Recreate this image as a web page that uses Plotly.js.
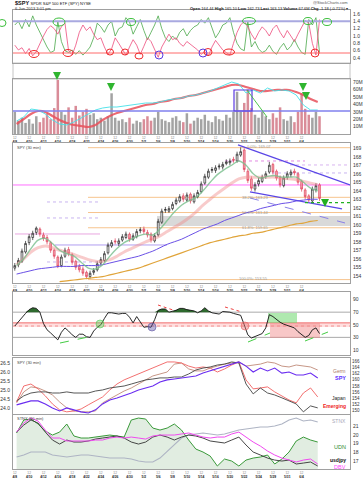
<!DOCTYPE html>
<html><head><meta charset="utf-8">
<script src="https://cdn.plot.ly/plotly-3.0.1.min.js"></script>
<style>html,body{margin:0;padding:0;background:#fff}#chart{width:364px;height:480px}</style>
</head><body><div id="chart"></div>
<script>
// ---------- DATA ----------
const days = ['4/8','4/9','4/10','4/11','4/12','4/15','4/16','4/17','4/18','4/19','4/22','4/23','4/24','4/25','4/26','4/29','4/30','5/1','5/2','5/3','5/6','5/7','5/8','5/9','5/10','5/13','5/14','5/15','5/16','5/17','5/20','5/21','5/22','5/23','5/24','5/28','5/29','5/30','5/31','6/3','6/4','6/5','6/6'];
const labelDays = [0,2,4,6,8,10,12,14,16,18,20,22,24,26,28,30,32,34,36,38,40];

// half-day SPY bars
const spyOpen = [154.9,155.3,155.7,156.8,157.9,158.5,159.1,159.5,158.8,158.5,157.9,157.0,156.2,155.2,156.3,157.1,156.5,155.7,155.1,154.8,154.4,153.9,154.4,154.7,155.5,155.8,156.7,157.5,158.1,157.8,158.2,158.5,158.9,158.3,158.6,159.3,159.5,159.1,158.9,158.1,158.8,160.3,161.7,161.6,161.9,162.5,162.8,163.4,162.9,163.6,162.7,163.3,163.9,164.9,165.6,166.4,166.4,166.8,166.8,167.2,167.3,167.7,167.5,168.2,168.8,166.3,165.4,164.2,164.8,165.1,165.7,166.2,167.1,166.3,165.6,164.6,165.6,165.9,166.3,166.0,165.1,164.1,163.4,162.8,164.1,164.7];
const spyHigh = [155.5,156.1,157.2,158.1,158.9,159.3,159.8,159.7,159.1,158.8,158.1,157.2,156.4,156.5,157.3,157.4,156.7,155.9,155.4,155.1,154.6,154.6,154.9,155.7,156.2,156.9,157.9,158.2,158.4,158.4,158.9,159.2,159.1,159.0,159.5,159.7,159.8,159.4,159.1,159.0,160.7,161.9,162.1,162.2,162.7,163.2,163.6,163.7,163.8,163.8,163.7,164.1,165.1,166.0,166.6,166.8,167.0,167.2,167.4,167.7,167.8,168.0,168.6,169.1,169.0,166.6,165.7,165.0,165.5,165.9,166.3,167.4,167.3,166.5,165.8,165.8,166.3,166.5,166.6,166.2,165.3,164.3,163.6,164.5,164.9,164.9];
const spyLow = [154.6,155.0,155.5,156.6,157.6,158.2,158.8,158.6,158.1,157.7,156.7,156.0,154.9,155.0,156.1,156.3,155.3,154.7,154.4,154.0,153.6,153.7,154.1,154.5,155.2,155.6,156.5,157.3,157.7,157.5,158.0,158.3,158.0,158.1,158.4,159.0,158.9,158.5,157.9,157.9,158.6,160.1,161.4,161.4,161.7,162.3,162.6,162.7,162.7,162.5,162.5,163.1,163.7,164.7,165.4,166.1,166.1,166.5,166.5,167.0,167.0,167.3,167.3,168.0,166.2,164.9,164.0,163.9,164.5,164.9,165.4,166.0,165.9,165.2,164.4,164.4,165.3,165.6,165.8,164.7,163.9,163.0,162.6,162.6,163.8,162.8];
const spyClose = [155.2,155.8,156.9,157.8,158.6,159.0,159.6,158.9,158.4,158.0,157.0,156.3,155.1,156.2,157.0,156.6,155.6,155.0,154.7,154.3,153.9,154.3,154.6,155.4,155.9,156.6,157.6,157.9,158.0,158.1,158.6,158.9,158.3,158.7,159.2,159.4,159.2,158.8,158.2,158.7,160.4,161.6,161.8,161.9,162.4,162.9,163.3,163.0,163.5,162.8,163.4,163.8,164.8,165.7,166.3,166.5,166.7,166.9,167.1,167.4,167.5,167.6,168.3,168.6,166.5,165.2,164.3,164.7,165.2,165.6,166.0,167.0,166.2,165.5,164.7,165.5,166.0,166.2,166.1,165.0,164.2,163.3,162.9,164.2,164.6,163.1];
const volumeM = [30,18,22,15,20,14,24,16,22,28,20,35,73,30,26,36,22,38,25,30,34,26,28,20,22,18,24,55,22,18,20,16,22,14,18,16,20,24,18,22,30,20,18,16,22,24,18,16,28,14,18,22,20,26,18,16,24,20,18,26,22,30,57,30,42,60,35,26,22,30,24,20,28,22,36,20,18,24,16,30,55,34,26,22,30,24];
const indPink = [0.75,0.62,0.68,0.52,0.66,0.46,0.58,0.80,1.00,1.18,1.28,1.20,1.05,1.25,1.35,0.60,0.48,0.75,1.10,1.30,1.15,1.25,1.05,0.90,0.95,0.70,0.50,0.65,0.95,0.80,0.62,0.48,0.70,0.90,0.75,0.50,0.72,0.95,0.85,0.62,0.42,0.70,0.88,1.05,0.90,0.95,0.80,0.72,0.85,0.78,0.70,0.62,0.50,0.58,0.46,0.70,0.88,0.75,0.62,0.55,0.48,0.80,1.10,1.30,1.40,1.25,1.05,0.90,1.10,1.25,1.15,1.00,1.20,1.30,1.10,0.95,1.15,1.00,0.85,1.05,1.25,1.42,1.35,0.80,0.48,1.45];
const indGreen = [1.30,1.40,1.20,1.45,1.25,1.55,1.30,1.10,0.90,0.70,0.55,0.60,1.40,0.85,0.60,0.55,0.62,0.50,0.60,0.48,0.58,0.70,0.95,1.35,1.25,1.10,1.30,1.40,1.00,1.20,1.25,1.50,1.38,1.05,1.25,1.45,1.15,0.90,1.10,1.30,1.55,1.20,0.95,0.85,1.00,0.90,1.10,1.20,1.00,1.15,1.25,1.30,1.45,1.35,1.50,1.20,0.95,1.10,1.30,1.35,1.50,1.10,0.80,0.65,0.60,1.40,0.70,0.85,0.65,0.55,0.60,0.75,0.58,0.50,0.68,0.80,0.62,0.72,0.90,0.70,0.55,0.50,1.45,1.30,1.50,0.55];
const rsi = [48,55,62,68,74,77,76,70,52,42,37,31,26,38,45,40,34,30,35,35,31,30,40,46,50,60,69,69,68,67,68,68,62,53,63,55,46,47,46,58,73,75,75,70,71,73,76,76,74,73,72,69,72,77,72,69,68,67,71,71,70,68,67,65,50,34,29,31,34,36,45,66,63,58,54,51,49,47,45,39,34,30,33,42,45,36];

// daily series
const maGreen = [155.2,156.0,157.2,158.2,158.4,157.8,157.0,156.6,156.3,155.6,154.9,154.8,155.3,156.3,157.2,157.9,158.3,158.7,158.9,158.8,159.5,160.5,161.5,162.3,162.8,163.2,164.0,165.0,165.9,166.5,167.0,167.5,167.0,166.0,165.5,165.7,165.8,165.6,165.6,165.6,165.0,164.3,164.0];
const maPink = [155.3,156.0,156.8,157.3,157.5,157.3,157.0,156.8,156.5,156.2,155.9,155.7,155.7,155.9,156.3,156.8,157.2,157.6,158.0,158.3,158.7,159.2,159.7,160.2,160.8,161.5,162.3,163.0,163.7,164.3,164.9,165.4,165.6,165.6,165.6,165.6,165.6,165.5,165.4,165.3,165.1,164.9,164.7];
const maPurple = [154.2,154.4,154.6,154.8,154.9,155.0,155.1,155.1,155.1,155.2,155.2,155.2,155.3,155.5,155.7,155.9,156.1,156.3,156.6,156.9,157.3,157.7,158.0,158.3,158.7,159.1,159.5,159.8,160.1,160.5,160.8,161.1,161.4,161.6,161.9,162.1,162.3,162.5,162.6,162.8,162.9,163.0,163.0];
const maOrange = [null,null,null,null,null,null,153.3,153.4,153.5,153.6,153.7,153.8,153.9,154.1,154.3,154.5,154.7,154.9,155.2,155.5,155.8,156.1,156.4,156.7,157.0,157.3,157.6,157.9,158.1,158.3,158.5,158.7,158.8,159.0,159.1,159.3,159.5,159.7,159.9,160.1,160.2,160.4,160.5];
const volCyan = [13,17,25,24,20,14,10,9,12,16,20,24,26,27,27,28,29,30,31,31,32,34,35,36,38,39,41,43,46,49,52,50,41,44,41,46,43,44,43,39,29,24,24];
const volRed = [10,15,20,23,22,18,14,11,9,8,7,9,14,18,21,23,25,27,29,30,32,33,35,36,38,39,41,43,45,47,49,49,47,45,43,43,44,44,44,42,39,35,32];
const perfSPY = [24.17,24.28,24.39,24.39,24.22,24.0,23.83,24.0,23.89,23.78,23.72,23.89,24.22,24.44,24.55,24.67,24.83,25.0,25.11,25.22,25.44,25.56,25.61,25.67,25.72,25.78,25.94,26.06,26.22,26.33,26.44,26.56,26.33,26.0,26.22,26.06,26.22,25.94,26.0,25.83,25.83,25.94,25.67];
const perfGerm = [24.28,24.89,25.17,25.11,24.94,24.72,24.33,24.0,23.83,23.78,23.78,23.83,24.28,24.5,24.72,24.94,25.11,25.33,25.56,25.78,25.89,26.0,26.44,26.5,26.17,26.06,26.06,26.22,26.33,26.44,26.5,26.56,26.33,26.39,26.44,26.56,26.5,26.33,26.28,26.39,26.33,26.28,26.11];
const perfJapan = [24.39,24.67,24.83,24.89,24.89,24.83,24.83,24.89,24.83,24.83,24.83,24.94,25.0,25.11,25.17,25.22,25.33,25.44,25.56,25.61,25.67,25.67,25.72,25.72,25.89,26.11,26.22,26.28,26.39,26.44,26.56,26.5,25.33,24.78,25.11,24.83,24.72,24.56,24.39,24.22,23.78,24.11,24.0];
const perfEmerging = [24.33,25.22,25.33,25.06,24.67,24.22,23.89,23.78,23.83,23.94,24.17,24.39,24.61,25.0,25.33,25.56,25.72,25.89,26.06,26.22,26.39,26.56,26.56,26.5,26.33,26.22,26.28,26.22,26.0,26.17,26.39,26.56,25.56,25.06,25.11,25.17,24.89,24.67,24.44,24.28,24.83,25.11,24.61];
const stnx = [17.46,17.69,18.03,18.03,18.03,17.69,17.57,17.46,17.57,17.69,17.69,17.57,17.46,17.34,17.34,17.34,17.23,17.0,16.89,16.89,17.34,18.14,18.94,19.63,19.97,20.09,20.2,20.09,19.97,20.09,20.31,20.54,20.66,20.77,20.89,20.89,21.0,21.23,21.69,21.91,21.57,21.69,21.46];
const udn = [20.2,21.69,21.8,21.23,20.43,19.97,20.31,21.23,19.86,19.63,19.63,19.74,19.86,19.97,19.86,19.74,21.69,21.91,21.8,20.77,20.54,20.77,21.23,20.54,19.4,18.37,18.03,17.57,16.43,17.23,17.0,16.43,17.11,17.34,17.46,17.69,16.66,17.23,18.03,19.29,19.74,19.4,19.17];
const usdjpy = [20.31,21.11,21.69,21.34,20.31,19.4,18.94,19.4,19.17,19.17,19.29,19.51,19.63,19.74,19.86,19.63,19.17,18.94,19.17,19.74,19.97,19.74,19.4,19.74,19.97,19.86,19.63,19.29,19.17,19.06,19.4,19.74,18.83,18.03,17.69,17.34,17.11,17.0,17.11,16.66,16.77,16.89,16.43];
const dbv = [20.31,21.34,21.91,21.57,20.54,19.63,19.63,19.29,19.29,19.29,19.29,19.4,19.4,19.63,19.74,19.63,19.74,19.63,19.51,19.86,19.97,19.97,19.97,20.09,20.2,19.97,19.74,19.63,19.74,19.74,20.09,20.31,19.74,19.17,18.71,18.14,17.69,17.34,17.11,16.89,17.11,17.23,16.66];

// ---------- helpers ----------
const L=13, R=350, H=480;
const P = px => (px-L)/(R-L);
const Q = py => 1 - py/H;
const K = px => (px-14.8)/3.585;
const dom = (a,b) => [Q(b), Q(a)];
const pr = py => 163 + (199.3-py)/8.5;
const kx = spyClose.map((_,i)=>i);
const dx = days.map((_,i)=>2*i+0.5);
const FONT = 'Liberation Sans, Arial, sans-serif';

const volColors = spyClose.map((c,i)=> (i>0 && c<spyClose[i-1]) ? '#d98c98' : '#a3a3a3');

const traces = [
  {x:kx,y:indGreen,xaxis:'x',yaxis:'y',type:'scatter',mode:'lines',line:{color:'#4aa84a',width:0.8}},
  {x:kx,y:indPink,xaxis:'x',yaxis:'y',type:'scatter',mode:'lines',line:{color:'#ee4d7c',width:0.8}},
  {x:kx,y:volumeM,xaxis:'x2',yaxis:'y2',type:'bar',marker:{color:volColors,line:{width:0}},width:0.7},
  {x:dx,y:volRed,xaxis:'x2',yaxis:'y7',type:'scatter',mode:'lines',line:{color:'rgba(232,80,90,0.85)',width:2.2,shape:'spline'}},
  {x:dx,y:volCyan,xaxis:'x2',yaxis:'y7',type:'scatter',mode:'lines',line:{color:'#45e0e8',width:0.9}},
  {x:dx,y:maOrange,xaxis:'x3',yaxis:'y3',type:'scatter',mode:'lines',line:{color:'#e0a43a',width:1.2,shape:'spline'}},
  {x:dx,y:maPurple,xaxis:'x3',yaxis:'y3',type:'scatter',mode:'lines',line:{color:'#6a50e6',width:1,shape:'spline'}},
  {x:dx,y:maPink,xaxis:'x3',yaxis:'y3',type:'scatter',mode:'lines',line:{color:'rgba(240,140,140,0.45)',width:3,shape:'spline'}},
  {x:dx,y:maGreen,xaxis:'x3',yaxis:'y3',type:'scatter',mode:'lines',line:{color:'rgba(120,190,140,0.8)',width:1.4,shape:'spline'}},
  {x:kx,open:spyOpen,high:spyHigh,low:spyLow,close:spyClose,xaxis:'x3',yaxis:'y3',type:'candlestick',whiskerwidth:0,
   increasing:{line:{color:'#222',width:0.7},fillcolor:'#ffffff'},
   decreasing:{line:{color:'#e0405a',width:0.7},fillcolor:'rgba(242,160,170,0.9)'}},
  {x:kx,y:rsi.map(()=>70),xaxis:'x4',yaxis:'y4',type:'scatter',mode:'lines',line:{width:0,color:'rgba(0,0,0,0)'}},
  {x:kx,y:rsi.map(v=>Math.max(v,70)),xaxis:'x4',yaxis:'y4',type:'scatter',mode:'lines',fill:'tonexty',fillcolor:'#2e6a2e',line:{width:0,color:'rgba(0,0,0,0)'}},
  {x:kx,y:rsi,xaxis:'x4',yaxis:'y4',type:'scatter',mode:'lines',line:{color:'#111',width:0.9}},
  {x:dx,y:perfGerm,xaxis:'x5',yaxis:'y5',type:'scatter',mode:'lines',line:{color:'#c08a78',width:0.9}},
  {x:dx,y:perfEmerging,xaxis:'x5',yaxis:'y5',type:'scatter',mode:'lines',line:{color:'#f06060',width:0.9}},
  {x:dx,y:perfJapan,xaxis:'x5',yaxis:'y5',type:'scatter',mode:'lines',line:{color:'#444',width:0.9}},
  {x:dx,y:perfSPY,xaxis:'x5',yaxis:'y5',type:'scatter',mode:'lines',line:{color:'#6a2cf0',width:1.1}},
  {x:dx,y:udn,xaxis:'x6',yaxis:'y6',type:'scatter',mode:'lines',fill:'tozeroy',fillcolor:'rgba(200,222,200,0.55)',line:{color:'#3a9a3a',width:1}},
  {x:dx,y:stnx,xaxis:'x6',yaxis:'y6',type:'scatter',mode:'lines',line:{color:'#aeb4c4',width:1.1}},
  {x:dx,y:usdjpy,xaxis:'x6',yaxis:'y6',type:'scatter',mode:'lines',line:{color:'#333',width:0.9}},
  {x:dx,y:dbv,xaxis:'x6',yaxis:'y6',type:'scatter',mode:'lines',line:{color:'#f04af0',width:1}}
];

const axBase = {showgrid:false,zeroline:false,showline:true,mirror:true,linecolor:'#a0a0a0',linewidth:1,ticks:'',fixedrange:true};
const tickText = labelDays.map(d=>'<span style="color:#888">12</span><br><b>'+days[d]+'</b>');
const xb = (anchor,labels) => Object.assign({},axBase,{domain:[0,1],range:[-0.5,93.5],anchor:anchor,
  showticklabels:!!labels,tickvals:labelDays.map(d=>2*d),ticktext:tickText,tickfont:{size:3.3,color:'#222'},ticklabelstandoff:0});
const yb = (a,b,range,extra) => Object.assign({},axBase,{domain:dom(a,b),range:range,side:'right',tickfont:{size:5,color:'#333'},ticklabelstandoff:1},extra);

const shapes = [];
const ann = [];
function pline(x0,y0,x1,y1,color,width,dash){shapes.push({type:'line',xref:'paper',yref:'paper',x0:P(x0),y0:Q(y0),x1:P(x1),y1:Q(y1),line:{color:color,width:width||1,dash:dash||'solid'}});}
function prect(x0,y0,x1,y1,fill,lc){shapes.push({type:'rect',xref:'paper',yref:'paper',x0:P(x0),y0:Q(y1),x1:P(x1),y1:Q(y0),fillcolor:fill,line:{color:lc||'rgba(0,0,0,0)',width:lc?1:0},layer:'below'});}
function ell(cx,cy,w,h,color,fill){shapes.push({type:'circle',xref:'paper',yref:'paper',x0:P(cx-w/2),x1:P(cx+w/2),y0:Q(cy+h/2),y1:Q(cy-h/2),line:{color:color,width:1},fillcolor:fill||'rgba(0,0,0,0)'});}
function dline(x0,p0,x1,p1,color,width,dash,layer){shapes.push({type:'line',xref:'x3',yref:'y3',x0:K(x0),y0:p0,x1:K(x1),y1:p1,line:{color:color,width:width||1,dash:dash||'solid'},layer:layer||'above'});}
function txt(px,py,t,size,color,anchor,extra){ann.push(Object.assign({xref:'paper',yref:'paper',x:P(px),y:Q(py),text:t,showarrow:false,xanchor:anchor||'left',yanchor:'middle',font:{size:size,color:color,family:FONT}},extra||{}));}
function arrow(px,py,color){ann.push({xref:'paper',yref:'paper',x:P(px),y:Q(py),ax:0,ay:-5,text:'',showarrow:true,arrowhead:2,arrowsize:1,arrowwidth:1.6,arrowcolor:color});}

// panel 1 level lines
pline(13,21.3,350,21.3,'#a9a9e0',2);
pline(13,53,350,53,'#ff6a6a',1);
// empty strip under panel 1
prect(13,63,350,79,'rgba(0,0,0,0)','#c4c4c4');
// ellipses panel 1
[[59,22,12,8],[131,22,9,7],[249,21,13,7],[308,21,9,7],[327,22,9,7],[2,23,8,7]].forEach(e=>ell(e[0],e[1],e[2],e[3],'#3cbf3c'));
[[34,54,10,7],[68,53,10,7],[110,52,7,6],[125,52,7,6],[139,56,8,6],[208,52,8,7],[229,52,11,6],[315,53,8,8]].forEach(e=>ell(e[0],e[1],e[2],e[3],'#ee2a2a'));
[[159,55,8,8],[203,53,8,8]].forEach(e=>ell(e[0],e[1],e[2],e[3],'#5a3ae0'));

// volume panel
pline(13,111,350,111,'#8080ee',1.4);
shapes.push({type:'rect',xref:'paper',yref:'paper',x0:P(234),x1:P(252),y0:Q(111),y1:Q(90),line:{color:'#5a3ae0',width:1.2},fillcolor:'rgba(0,0,0,0)'});
pline(247,90,267,117,'#3cbf3c',0.9);
arrow(57,80,'#2fb52f'); arrow(111,91,'#2fb52f'); arrow(303,91,'#2fb52f'); arrow(306,100,'#2fb52f');

// price panel levels
shapes.push({type:'rect',xref:'x3',yref:'y3',x0:K(157),x1:93.5,y0:pr(226),y1:pr(216),fillcolor:'rgba(185,185,185,0.55)',line:{width:0},layer:'below'});
[169.07,163.23,161.44,159.65,153.55].forEach(p=>dline(88,p,350,p,'#f7c48e',1,'solid','below'));
dline(13,pr(185),350,pr(185),'#ff70ff',1,'solid','below');
dline(225,pr(161),305,pr(161),'#e28ae2',1,'dot','below');
dline(47,pr(202),100,pr(202),'#c8b4f0',1,'dot','below');
dline(47,pr(218),100,pr(218),'#c8b4f0',1,'dot','below');
dline(15,pr(234),100,pr(234),'#e9a6e0',1,'solid','below');
dline(55,pr(245),167,pr(245),'#b09ef0',1,'solid','below');
dline(47,pr(262),100,pr(262),'#c8b4f0',1,'dot','below');
dline(272,pr(173),350,pr(173),'#c8b4f0',1,'dot','below');
dline(290,pr(165),350,pr(165),'#d8b4f0',1,'dot','below');
dline(238,pr(145),350,pr(185),'#5a46e6',1.3);
dline(250,pr(192),342,pr(209),'#5a46e6',1.3);
dline(250,pr(198),345,pr(223),'#8a80e8',1,'dash');
dline(305,pr(202.7),350,pr(202.7),'#22b022',1.2,'dot');
arrow(325,207,'#22b022');
txt(245,146,'0.0%: 169.07',4,'#999','left');
txt(240,197,'38.2%: 163.23',4,'#999','left');
txt(240,212,'50.0%: 161.44',4,'#999','left');
txt(240,227,'61.8%: 159.65',4,'#999','left');
txt(237,278,'100.0%: 153.55',4,'#999','left');

// RSI panel
shapes.push({type:'rect',xref:'paper',yref:'y4',x0:0,x1:1,y0:46.5,y1:53,fillcolor:'rgba(255,150,150,0.3)',line:{width:0},layer:'below'});
shapes.push({type:'line',xref:'paper',yref:'y4',x0:0,x1:1,y0:53,y1:53,line:{color:'#f07070',width:1},layer:'below'});
shapes.push({type:'line',xref:'paper',yref:'y4',x0:0,x1:1,y0:48,y1:48,line:{color:'#f09090',width:1,dash:'dot'},layer:'below'});
shapes.push({type:'line',xref:'paper',yref:'y4',x0:0,x1:1,y0:70,y1:70,line:{color:'#aaaaaa',width:1},layer:'below'});
shapes.push({type:'line',xref:'paper',yref:'y4',x0:0,x1:1,y0:30,y1:30,line:{color:'#aaaaaa',width:1},layer:'below'});
prect(268,313,297,323,'rgba(110,215,110,0.55)');
prect(270,323,320,338,'rgba(240,130,130,0.45)');
ell(100,324,8,8,'rgba(80,200,80,0.6)','rgba(100,210,100,0.45)');
ell(152,327,8,8,'rgba(90,80,160,0.6)','rgba(100,90,170,0.45)');
ell(245,326,8,8,'rgba(230,100,100,0.6)','rgba(235,120,120,0.45)');
pline(60,343,93,336,'#44cc44',1,'dash');
pline(248,342,270,333,'#44cc44',1,'dash');
pline(305,341,328,332,'#44cc44',1,'dash');
pline(225,307,242,312,'#ee4444',1,'dot');
pline(158,305,173,310,'#ee4444',1,'dot');

// header
txt(13,3,'<b>$SPY</b> <span style="font-size:4px">SPDR S&P 500 ETF (SPY) NYSE</span>',5.5,'#111','left');
txt(13,8.5,'6-Jun-2013 3:01 pm',4,'#333','left');
txt(350,3,'@StockCharts.com',4,'#555','right');
txt(350,8.5,'<b>Open</b> 164.44 <b>High</b> 165.10 <b>Low</b> 162.73 <b>Last</b> 163.13 <b>Volume</b> 67.6M <b>Chg</b> -1.18 (-0.71%) ▾',4,'#222','right');
// panel labels
txt(15,147,'SPY (30 min)',4,'#444','left');
txt(15,362,'SPY (30 min)',4,'#444','left');
txt(15,418,'STNX (60 min)',4,'#444','left');
// legend-like labels
txt(348,371,'Germ',5,'#a87866','right');
txt(348,378,'<b>SPY</b>',5.5,'#5a2cff','right');
txt(348,398,'Japan',5,'#222','right');
txt(348,406,'<b>Emerging</b>',5,'#ee2222','right');
txt(348,421,'STNX',5,'#a8a8b8','right');
txt(348,447,'UDN',5.5,'#2e8b2e','right');
txt(348,460,'<b>usdjpy</b>',5,'#111','right');
txt(348,467,'DBV',5.5,'#ff44ff','right');

const layout = {
  width:364,height:480,margin:{l:13,r:14,t:0,b:0},paper_bgcolor:'#fff',plot_bgcolor:'#fff',showlegend:false,
  font:{family:FONT,size:5,color:'#333'},
  xaxis:xb('y',false), xaxis2:xb('y2',true), xaxis3:Object.assign(xb('y3',true),{rangeslider:{visible:false}}),
  xaxis4:xb('y4',false), xaxis5:xb('y5',false), xaxis6:xb('y6',true),
  yaxis:yb(10,63,[0.264,1.709],{anchor:'x',tickvals:[0.4,0.6,0.8,1.0,1.2,1.4,1.6],ticktext:['0.4','0.6','0.8','1.0','1.2','1.4','1.6']}),
  yaxis2:yb(79,134,[0,74.3],{anchor:'x2',tickvals:[10,20,30,40,50,60,70],ticktext:['10M','20M','30M','40M','50M','60M','70M']}),
  yaxis7:{overlaying:'y2',anchor:'x2',range:[0,55],visible:false,fixedrange:true},
  yaxis3:yb(143,283,[153.15,169.62],{anchor:'x3',tickvals:[154,155,156,157,158,159,160,161,162,163,164,165,166,167,168,169]}),
  yaxis4:yb(292,355,[2,102],{anchor:'x4',tickvals:[10,30,50,70,90]}),
  yaxis5:yb(358,414,[23.66,26.78],{anchor:'x5',side:'left',tickvals:[24,24.5,25,25.5,26,26.5],ticktext:['24.0','24.5','25.0','25.5','26.0','26.5']}),
  yaxis8:{overlaying:'y5',anchor:'x5',side:'right',range:[149,167],tickvals:[150,152,154,156,158,160,162,164,166],showgrid:false,zeroline:false,showline:false,ticks:'',tickfont:{size:4.5,color:'#333'},ticklabelstandoff:1,fixedrange:true},
  yaxis6:yb(415,469,[16.09,22.26],{anchor:'x6',tickvals:[17,18,19,20,21]}),
  shapes:shapes, annotations:ann
};
traces.push({x:[0],y:[null],xaxis:'x5',yaxis:'y8',type:'scatter',mode:'lines'});
Plotly.newPlot('chart',traces,layout,{staticPlot:true,displayModeBar:false});
</script></body></html>
